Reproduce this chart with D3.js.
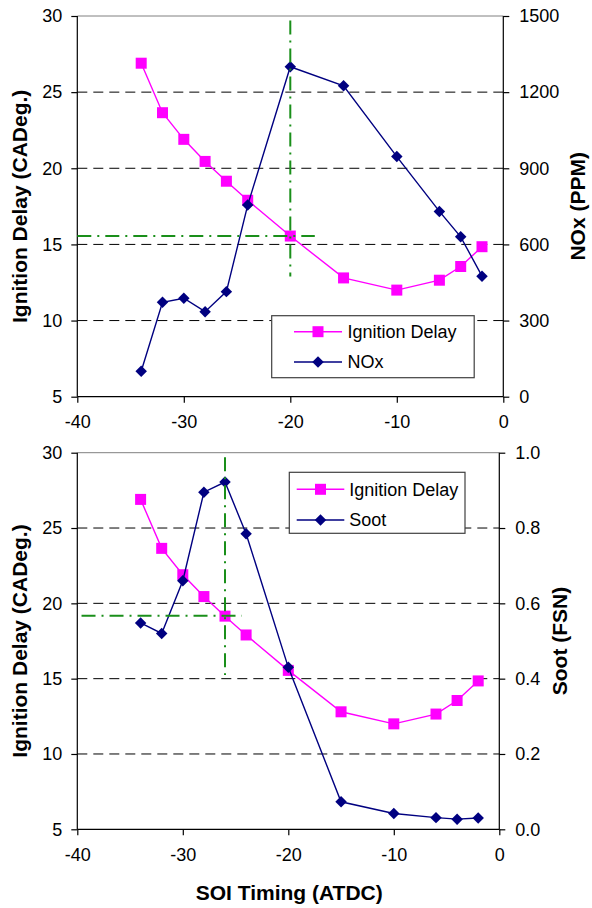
<!DOCTYPE html>
<html>
<head>
<meta charset="utf-8">
<script src="https://cdn.jsdelivr.net/npm/d3@7"></script>
<style>
  html, body { margin: 0; padding: 0; background: #fff; }
  svg { display: block; font-family: "Liberation Sans", Arial, sans-serif; }
</style>
</head>
<body>
<svg id="chart" width="592" height="908"></svg>
<script>
// ---- Data ----
const soiTiming = [-34, -32, -30, -28, -26, -24, -20, -15, -10, -6, -4, -2];
const ignitionDelay = [26.9, 23.65, 21.9, 20.45, 19.15, 17.9, 15.55, 12.8, 12.0, 12.65, 13.55, 14.85];
const noxPPM = [100, 372, 388, 335, 414, 755, 1300, 1225, 946, 730, 630, 475];
const sootFSN = [0.548, 0.52, 0.66, 0.895, 0.922, 0.785, 0.43, 0.073, 0.042, 0.031, 0.027, 0.030];

const xTicks = [-40, -30, -20, -10, 0];
const idTicks = [5, 10, 15, 20, 25, 30];
const noxTicks = [0, 300, 600, 900, 1200, 1500];
const sootTicks = [0, 0.2, 0.4, 0.6, 0.8, 1.0];

// guide lines (dash-dot): vertical at x over [yLow,yHigh], horizontal at y over [xLow,xHigh]
const guideTop = { x: -20, yLow: 12.9, yHigh: 29.7, y: 15.55, xLow: -40, xHigh: -17.7 };
const guideBottom = { x: -26, yLow: 15.24, yHigh: 29.7, y: 19.18, xLow: -39.6, xHigh: -24.4 };

const seriesNames = { id: "Ignition Delay", nox: "NOx", soot: "Soot" };
const titles = { x: "SOI Timing (ATDC)", yLeft: "Ignition Delay (CADeg.)", nox: "NOx (PPM)", soot: "Soot (FSN)" };

// ---- Drawing ----
const svg = d3.select("#chart");
const MAG = "#ff00ff", NAVY = "#000080", GREEN = "#1a8f1a";
const intFmt = d => String(d);           // plain hyphen-minus like the original
const oneDec = d => d.toFixed(1);

function panel(cfg) {
  const x = d3.scaleLinear().domain([-40, 0]).range([cfg.left, cfg.right]);
  const yL = d3.scaleLinear().domain([5, 30]).range([cfg.bottom, cfg.top]);
  const yR = d3.scaleLinear().domain(cfg.rDomain).range([cfg.bottom, cfg.top]);
  const g = svg.append("g");

  // gridlines
  g.selectAll("line.grid").data(idTicks.filter(t => t > 5 && t < 30)).enter()
    .append("line")
    .attr("x1", cfg.left).attr("x2", cfg.right)
    .attr("y1", d => yL(d)).attr("y2", d => yL(d))
    .attr("stroke", "#000").attr("stroke-width", 1)
    .attr("stroke-dasharray", "10,6");
  // top border
  g.append("line").attr("x1", cfg.left).attr("x2", cfg.right)
    .attr("y1", cfg.top).attr("y2", cfg.top)
    .attr("stroke", "#808080").attr("stroke-width", 1);

  // axes
  const ax = g.append("g").attr("transform", `translate(0,${cfg.bottom})`)
    .call(d3.axisBottom(x).tickValues(xTicks).tickSize(6).tickPadding(13).tickFormat(intFmt));
  const ayl = g.append("g").attr("transform", `translate(${cfg.left},0)`)
    .call(d3.axisLeft(yL).tickValues(idTicks).tickSize(6).tickPadding(9).tickFormat(intFmt));
  const ayr = g.append("g").attr("transform", `translate(${cfg.right},0)`)
    .call(d3.axisRight(yR).tickValues(cfg.rTicks).tickSize(6).tickPadding(10).tickFormat(cfg.rFormat));
  [ax, ayl, ayr].forEach(a => {
    a.select(".domain").attr("stroke", "#000").attr("stroke-width", 1.2);
    a.selectAll(".tick line").attr("stroke", "#000").attr("stroke-width", 1.2);
    a.selectAll(".tick text").attr("font-size", 18).attr("fill", "#000")
      .attr("font-family", "Liberation Sans, Arial, sans-serif");
  });
  ax.select(".domain").attr("d", `M${cfg.left},0H${cfg.right}`);
  ayl.select(".domain").attr("d", `M0,${cfg.bottom}V${cfg.top}`);
  ayr.select(".domain").attr("d", `M0,${cfg.bottom}V${cfg.top}`);

  // ignition delay series
  const idData = soiTiming.map((t, i) => [t, ignitionDelay[i]]);
  g.append("path").datum(idData)
    .attr("d", d3.line().x(d => x(d[0])).y(d => yL(d[1])))
    .attr("fill", "none").attr("stroke", MAG).attr("stroke-width", 1.4);
  g.selectAll("rect.id").data(idData).enter().append("rect")
    .attr("x", d => x(d[0]) - 5.5).attr("y", d => yL(d[1]) - 5.5)
    .attr("width", 11).attr("height", 11).attr("fill", MAG);

  // secondary series
  const rData = soiTiming.map((t, i) => [t, cfg.rValues[i]]);
  g.append("path").datum(rData)
    .attr("d", d3.line().x(d => x(d[0])).y(d => yR(d[1])))
    .attr("fill", "none").attr("stroke", NAVY).attr("stroke-width", 1.4);
  g.selectAll("path.dm").data(rData).enter().append("path")
    .attr("transform", d => `translate(${x(d[0])},${yR(d[1])}) rotate(45)`)
    .attr("d", d3.symbol().type(d3.symbolSquare).size(66))
    .attr("fill", NAVY);

  // guide lines
  const gd = cfg.guide;
  g.append("line").attr("x1", x(gd.x)).attr("x2", x(gd.x))
    .attr("y1", yL(gd.yHigh)).attr("y2", yL(gd.yLow))
    .attr("stroke", GREEN).attr("stroke-width", 2).attr("stroke-dasharray", "14,6,2,6");
  g.append("line").attr("x1", x(gd.xLow)).attr("x2", x(gd.xHigh))
    .attr("y1", yL(gd.y)).attr("y2", yL(gd.y))
    .attr("stroke", GREEN).attr("stroke-width", 2).attr("stroke-dasharray", "14,6,2,6");

  // legend
  const L = cfg.legend;
  g.append("rect").attr("x", L.x).attr("y", L.y).attr("width", L.w).attr("height", L.h)
    .attr("fill", "#fff").attr("stroke", "#404040").attr("stroke-width", 1.2);
  const items = [
    { name: seriesNames.id, color: MAG, shape: "sq", y: L.row1 },
    { name: cfg.rName, color: NAVY, shape: "dm", y: L.row2 }
  ];
  items.forEach(it => {
    g.append("line").attr("x1", L.lx1).attr("x2", L.lx2).attr("y1", it.y).attr("y2", it.y)
      .attr("stroke", it.color).attr("stroke-width", 1.4);
    const mx = (L.lx1 + L.lx2) / 2;
    if (it.shape === "sq") {
      g.append("rect").attr("x", mx - 5.5).attr("y", it.y - 5.5).attr("width", 11).attr("height", 11).attr("fill", it.color);
    } else {
      g.append("path").attr("transform", `translate(${mx},${it.y}) rotate(45)`)
        .attr("d", d3.symbol().type(d3.symbolSquare).size(66)).attr("fill", it.color);
    }
    g.append("text").attr("x", L.tx).attr("y", it.y).attr("dy", "0.35em")
      .attr("font-size", 18).attr("fill", "#000").text(it.name);
  });

  // axis titles
  g.append("text").attr("transform", `translate(26.5,${(cfg.top + cfg.bottom) / 2}) rotate(-90)`)
    .attr("text-anchor", "middle").attr("font-size", 21).attr("font-weight", "bold").text(titles.yLeft);
  g.append("text").attr("transform", `translate(${cfg.rTitleX},${(cfg.top + cfg.bottom) / 2}) rotate(-90)`)
    .attr("text-anchor", "middle").attr("font-size", 21).attr("font-weight", "bold").text(cfg.rTitle);
}

panel({
  left: 77.3, right: 503.3, top: 16, bottom: 396.7,
  rDomain: [0, 1500], rTicks: noxTicks, rFormat: intFmt, rValues: noxPPM,
  rName: seriesNames.nox, rTitle: titles.nox, rTitleX: 584.5,
  guide: guideTop,
  legend: { x: 271.7, y: 315.7, w: 202.5, h: 62, row1: 331.7, row2: 362, lx1: 294, lx2: 342, tx: 347.5 }
});

panel({
  left: 77.3, right: 499.3, top: 452.7, bottom: 829.3,
  rDomain: [0, 1], rTicks: sootTicks, rFormat: oneDec, rValues: sootFSN,
  rName: seriesNames.soot, rTitle: titles.soot, rTitleX: 566.5,
  guide: guideBottom,
  legend: { x: 289.3, y: 472.3, w: 175.7, h: 61, row1: 489.3, row2: 520, lx1: 296.7, lx2: 344.3, tx: 349.3 }
});

svg.append("text").attr("x", 289.2).attr("y", 900).attr("text-anchor", "middle")
  .attr("font-size", 21).attr("font-weight", "bold").text(titles.x);
</script>
</body>
</html>
